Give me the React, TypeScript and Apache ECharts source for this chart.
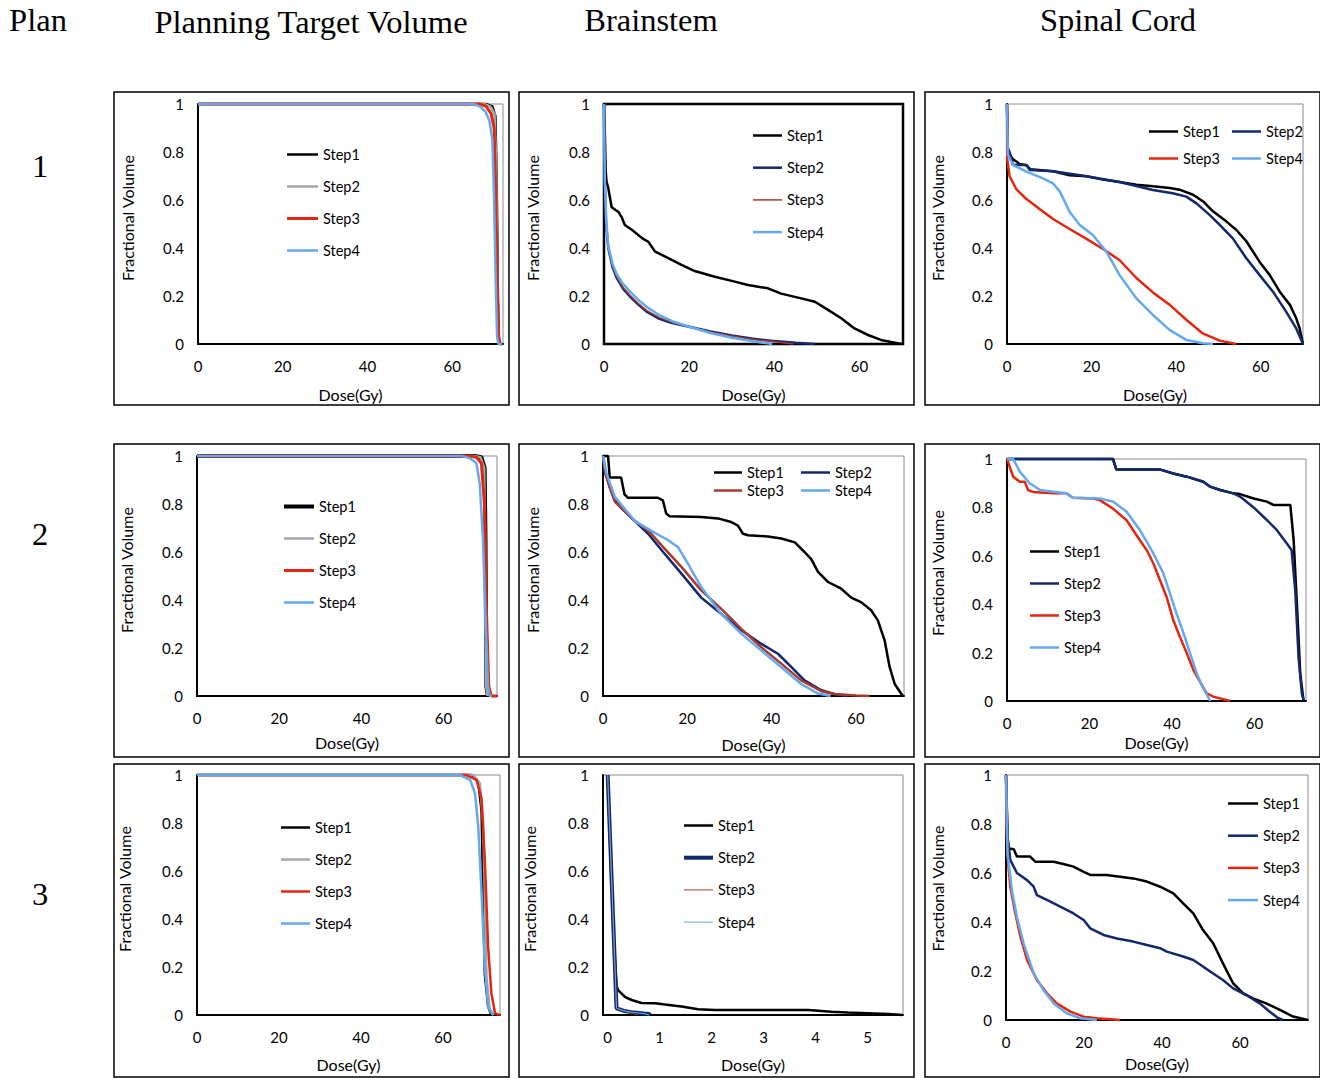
import React, { useEffect, useRef } from "react";
import * as echarts from "echarts";

type Pt = [number, number];

// ---------- labels ----------
const STEPS = ["Step1", "Step2", "Step3", "Step4"];
const COLUMN_TITLES = ["Planning Target Volume", "Brainstem", "Spinal Cord"];
const ROW_LABELS = ["1", "2", "3"];
const PLAN_LABEL = "Plan";
const X_TITLE = "Dose(Gy)";
const Y_TITLE = "Fractional Volume";
const X_TICKS_GY = [0, 20, 40, 60];
const X_TICKS_BS3 = [0, 1, 2, 3, 4, 5];
const Y_TICKS = [0, 0.2, 0.4, 0.6, 0.8, 1];

// ---------- Plan 1 : PTV ----------
const ptv1Step1: Pt[] = [[0, 1], [68, 1], [69.5, 0.99], [70.2, 0.95], [70.5, 0.7], [70.8, 0.2], [71, 0.02], [71.2, 0]];
const ptv1Step2: Pt[] = [[0, 1], [67.5, 1], [69, 0.99], [70, 0.96], [70.4, 0.75], [70.7, 0.2], [71, 0.02], [71.3, 0]];
const ptv1Step3: Pt[] = [[0, 1], [66.5, 1], [68, 0.99], [69.2, 0.96], [69.9, 0.9], [70.3, 0.6], [70.7, 0.2], [71, 0.03], [71.3, 0], [71.8, 0]];
const ptv1Step4: Pt[] = [[0, 1], [65, 1], [66.5, 0.99], [67.8, 0.97], [68.8, 0.93], [69.5, 0.85], [69.9, 0.6], [70.3, 0.25], [70.6, 0.03], [70.9, 0], [71.8, 0]];

// ---------- Plan 1 : Brainstem ----------
const bs1Step1: Pt[] = [[0, 1], [0.2, 0.88], [0.4, 0.72], [0.6, 0.676], [1, 0.65], [1.8, 0.57], [3.4, 0.55], [4.1, 0.53], [4.9, 0.496], [6.6, 0.475], [9, 0.44], [10.4, 0.426], [12, 0.385], [15.2, 0.357], [18.2, 0.33], [21.3, 0.304], [26, 0.28], [30.7, 0.26], [33.8, 0.246], [38.5, 0.232], [41.6, 0.21], [46.3, 0.19], [49.5, 0.176], [52.6, 0.142], [55.7, 0.107], [58.8, 0.065], [62, 0.0375], [65, 0.017], [69.8, 0]];
const bs1Step2: Pt[] = [[0, 1], [0.1, 0.8], [0.2, 0.66], [0.5, 0.5], [1, 0.4], [2, 0.32], [3, 0.275], [4.5, 0.23], [6, 0.2], [8, 0.165], [10, 0.135], [13, 0.105], [16, 0.087], [20, 0.072], [25, 0.052], [30, 0.036], [35, 0.022], [40, 0.012], [45, 0.005], [49.5, 0]];
const bs1Step3: Pt[] = [[0, 1], [0.1, 0.8], [0.2, 0.66], [0.5, 0.5], [1, 0.4], [2, 0.325], [3, 0.28], [4.5, 0.235], [6, 0.205], [8, 0.17], [10, 0.14], [13, 0.11], [16, 0.09], [20, 0.072], [25, 0.05], [30, 0.033], [35, 0.019], [40, 0.009], [44.5, 0]];
const bs1Step4: Pt[] = [[0, 1], [0.1, 0.82], [0.2, 0.68], [0.5, 0.52], [1, 0.41], [2, 0.335], [3, 0.29], [4.5, 0.25], [6, 0.22], [8, 0.185], [10, 0.155], [13, 0.12], [16, 0.095], [20, 0.072], [25, 0.046], [30, 0.026], [35, 0.011], [39.5, 0]];

// ---------- Plan 1 : Spinal Cord ----------
const sc1Step1: Pt[] = [[0, 1], [0.2, 0.815], [0.6, 0.79], [1.4, 0.77], [3, 0.75], [4.6, 0.745], [5.5, 0.728], [10.9, 0.72], [14.8, 0.703], [18.8, 0.699], [22.7, 0.685], [26.6, 0.675], [30.6, 0.664], [34.5, 0.657], [38.5, 0.65], [40.8, 0.643], [44, 0.622], [46.4, 0.594], [48.7, 0.553], [51.9, 0.51], [54.2, 0.476], [56.6, 0.428], [59.7, 0.343], [62.1, 0.288], [64.5, 0.218], [66.9, 0.163], [68.4, 0.107], [69.2, 0.065], [70, 0]];
const sc1Step2: Pt[] = [[0, 1], [0.2, 0.815], [0.6, 0.8], [1.4, 0.746], [4.6, 0.746], [5.4, 0.725], [10.9, 0.72], [18.8, 0.699], [26.6, 0.675], [34.5, 0.642], [39.2, 0.628], [42.4, 0.614], [44.8, 0.586], [47.9, 0.538], [50.3, 0.496], [53.4, 0.44], [56.6, 0.357], [59.7, 0.288], [62.9, 0.218], [66, 0.135], [68.4, 0.065], [70, 0]];
const sc1Step3: Pt[] = [[0, 1], [0.05, 0.77], [0.6, 0.7], [2.2, 0.645], [4.6, 0.604], [7.7, 0.563], [10.9, 0.521], [14.8, 0.479], [18.8, 0.438], [22.7, 0.396], [26.6, 0.35], [30.6, 0.275], [34.5, 0.215], [38.5, 0.163], [42.4, 0.101], [46.3, 0.044], [50.3, 0.014], [54.2, 0]];
const sc1Step4: Pt[] = [[0, 1], [0.2, 0.79], [1.4, 0.746], [4.6, 0.718], [8.5, 0.69], [10.9, 0.669], [12.5, 0.635], [14.8, 0.551], [17.2, 0.496], [20.3, 0.454], [23.5, 0.385], [26.6, 0.288], [30.6, 0.19], [34.5, 0.121], [38.5, 0.058], [42.4, 0.017], [46.3, 0.003], [48.7, 0]];

// ---------- Plan 2 : PTV ----------
const ptv2Step1: Pt[] = [[0, 1], [67.6, 1], [69.2, 0.995], [70, 0.95], [70.2, 0.65], [70.4, 0.04], [70.8, 0]];
const ptv2Step2: Pt[] = [[0, 1], [67.5, 1], [69, 0.995], [69.9, 0.95], [70.1, 0.6], [70.3, 0.05], [70.7, 0]];
const ptv2Step3: Pt[] = [[0, 1], [66.3, 1], [68, 0.995], [69.2, 0.97], [70, 0.79], [70.4, 0.37], [71, 0.04], [71.6, 0], [73, 0]];
const ptv2Step4: Pt[] = [[0, 1], [64.5, 1], [66.5, 0.99], [68, 0.97], [68.8, 0.885], [69.6, 0.65], [70.4, 0.23], [70.8, 0.04], [71.2, 0], [71.8, 0]];

// ---------- Plan 2 : Brainstem ----------
const bs2Step1: Pt[] = [[0, 1], [1.2, 1], [1.6, 0.91], [4.3, 0.91], [5.1, 0.84], [5.9, 0.826], [13, 0.826], [14.2, 0.815], [15, 0.76], [15.8, 0.749], [23.3, 0.746], [27.3, 0.74], [30.4, 0.725], [32, 0.71], [33.2, 0.676], [34.4, 0.67], [39.1, 0.665], [42.3, 0.656], [45.5, 0.64], [47.8, 0.6], [49.4, 0.57], [51, 0.517], [53.4, 0.475], [56.5, 0.447], [58.9, 0.41], [61.3, 0.39], [63.6, 0.357], [65.2, 0.315], [66.8, 0.232], [68, 0.12], [69.2, 0.05], [71.1, 0]];
const bs2Step2: Pt[] = [[0, 1], [0.55, 0.93], [1.6, 0.87], [2.8, 0.815], [5.1, 0.77], [7.5, 0.73], [10.7, 0.676], [14.6, 0.593], [18.6, 0.51], [23.3, 0.41], [28, 0.343], [32.8, 0.274], [37.5, 0.218], [41.5, 0.176], [44.7, 0.12], [47.8, 0.065], [51.8, 0.024], [55, 0.007], [58, 0]];
const bs2Step3: Pt[] = [[0, 1], [0.5, 0.93], [1.6, 0.87], [2.8, 0.81], [5.1, 0.77], [7.5, 0.73], [10.7, 0.69], [14.6, 0.614], [18.6, 0.538], [23.3, 0.44], [28, 0.364], [32.8, 0.28], [37.5, 0.204], [42.3, 0.135], [47, 0.065], [51.8, 0.02], [55, 0.008], [60, 0.002], [63.2, 0]];
const bs2Step4: Pt[] = [[0, 1], [0.8, 0.93], [2.8, 0.83], [7.5, 0.73], [12.3, 0.68], [15.4, 0.65], [17.8, 0.62], [20.2, 0.55], [23.3, 0.454], [28, 0.343], [32.8, 0.26], [37.5, 0.19], [42.3, 0.12], [47, 0.05], [51, 0.01], [54, 0]];

// ---------- Plan 2 : Spinal Cord ----------
const sc2Step1: Pt[] = [[0, 1], [25.7, 1], [26.5, 0.957], [37, 0.957], [40.3, 0.94], [43.6, 0.927], [47.6, 0.906], [49.2, 0.886], [51.7, 0.872], [54.9, 0.858], [56.5, 0.855], [59.8, 0.837], [63, 0.824], [64.6, 0.81], [68.7, 0.81], [69.5, 0.665], [70.3, 0.4], [71.1, 0.114], [71.9, 0]];
const sc2Step2: Pt[] = [[0, 1], [25.7, 1], [26.5, 0.957], [37, 0.957], [40.3, 0.94], [43.6, 0.927], [47.6, 0.906], [49.2, 0.886], [51.7, 0.872], [54.9, 0.858], [56.5, 0.845], [59.8, 0.8], [63, 0.748], [65.4, 0.707], [67.9, 0.65], [69, 0.624], [69.9, 0.455], [70.7, 0.18], [71.5, 0.03], [72, 0]];
const sc2Step3: Pt[] = [[0, 1], [0.6, 0.97], [1.5, 0.927], [3.1, 0.906], [4.3, 0.906], [5.1, 0.872], [6.3, 0.864], [11.2, 0.858], [14.4, 0.858], [16, 0.84], [20.9, 0.837], [22.5, 0.83], [25.7, 0.795], [29, 0.747], [31.4, 0.685], [33.9, 0.623], [35.5, 0.568], [37.1, 0.499], [38.7, 0.43], [40.3, 0.335], [41.9, 0.266], [43.6, 0.197], [45.2, 0.128], [46.8, 0.08], [48.4, 0.032], [50, 0.018], [54.1, 0]];
const sc2Step4: Pt[] = [[0, 1], [1.5, 1], [3.1, 0.948], [5.5, 0.9], [8, 0.872], [11.2, 0.865], [14.4, 0.858], [16, 0.84], [22.5, 0.837], [25.7, 0.824], [29, 0.782], [32.2, 0.707], [35.5, 0.61], [37.9, 0.528], [39.5, 0.445], [41.1, 0.362], [42.8, 0.28], [44.4, 0.197], [46, 0.114], [47.6, 0.052], [49.3, 0]];

// ---------- Plan 3 : PTV ----------
const ptv3Step1: Pt[] = [[0, 1], [67, 1], [68.6, 0.97], [69.4, 0.85], [69.8, 0.5], [70.2, 0.17], [71, 0.035], [71.8, 0]];
const ptv3Step2: Pt[] = [[0, 1], [67.4, 1], [69, 0.965], [69.8, 0.8], [70.2, 0.5], [70.6, 0.16], [71.4, 0.02], [72.3, 0]];
const ptv3Step3: Pt[] = [[0, 1], [65.7, 1], [68.2, 0.98], [69.4, 0.9], [70.2, 0.646], [71, 0.285], [71.8, 0.09], [72.7, 0.007], [73.9, 0]];
const ptv3Step4: Pt[] = [[0, 1], [64.1, 1], [66.6, 0.98], [67.8, 0.924], [68.6, 0.785], [69.4, 0.507], [70.2, 0.2], [71, 0.035], [72.3, 0]];

// ---------- Plan 3 : Brainstem ----------
const bs3Step1: Pt[] = [[0, 1], [0.05, 0.7], [0.12, 0.3], [0.17, 0.12], [0.2, 0.104], [0.33, 0.076], [0.46, 0.0625], [0.65, 0.05], [0.91, 0.049], [1.1, 0.044], [1.42, 0.035], [1.74, 0.024], [2.06, 0.021], [3.35, 0.021], [3.86, 0.021], [4.3, 0.014], [4.62, 0.01], [5, 0.007], [5.4, 0.004], [5.66, 0]];
const bs3Step2: Pt[] = [[0, 1], [0.17, 0.028], [0.3, 0.018], [0.45, 0.012], [0.7, 0.006], [0.8, 0.004], [0.81, 0]];
const bs3Step3: Pt[] = [[0, 1], [0.17, 0.028], [0.3, 0.018], [0.45, 0.008], [0.58, 0]];
const bs3Step4: Pt[] = [[0, 1], [0.17, 0.028], [0.3, 0.018], [0.45, 0.012], [0.7, 0.006], [0.8, 0]];

// ---------- Plan 3 : Spinal Cord ----------
const sc3Step1: Pt[] = [[0, 1], [0.4, 0.735], [0.7, 0.7], [2, 0.697], [2.8, 0.667], [6.2, 0.667], [7.5, 0.646], [12.2, 0.646], [14.7, 0.637], [17.3, 0.626], [19.9, 0.605], [21.6, 0.592], [25.8, 0.592], [29.2, 0.585], [32.6, 0.578], [36.1, 0.565], [39.5, 0.544], [42.9, 0.517], [45.4, 0.476], [48, 0.435], [50.5, 0.367], [53.1, 0.313], [55.6, 0.231], [58.2, 0.15], [60.8, 0.109], [63.3, 0.088], [66.7, 0.068], [70.2, 0.041], [73.6, 0.014], [77.4, 0]];
const sc3Step2: Pt[] = [[0, 1], [0.4, 0.748], [1.1, 0.653], [2.8, 0.6], [5.4, 0.571], [7.1, 0.544], [7.9, 0.51], [10.5, 0.49], [13.9, 0.463], [17.3, 0.435], [19.9, 0.408], [21.6, 0.374], [25, 0.347], [28.4, 0.333], [32.6, 0.32], [36.1, 0.306], [39.5, 0.293], [41.2, 0.279], [45.4, 0.259], [48, 0.245], [50.5, 0.218], [53.1, 0.19], [55.6, 0.163], [58.2, 0.129], [61.6, 0.102], [65, 0.068], [67.6, 0.034], [69.7, 0.008], [71, 0]];
const sc3Step3: Pt[] = [[0, 1], [0.1, 0.79], [0.4, 0.667], [1.1, 0.544], [2.4, 0.435], [3.7, 0.34], [5.4, 0.245], [7.9, 0.163], [10.5, 0.109], [13, 0.068], [16.5, 0.034], [19.9, 0.0136], [23.3, 0.007], [29.2, 0]];
const sc3Step4: Pt[] = [[0, 1], [0.4, 0.68], [1.5, 0.53], [2.8, 0.42], [4.5, 0.313], [7.1, 0.19], [9.6, 0.122], [12.2, 0.068], [15.6, 0.027], [19, 0.007], [23.3, 0]];

// ---------- styles / layout ----------
const BLACK = "#000000";
const GRAY = "#a6a6a6";
const RED = "#e3260f";
const LBLUE = "#64a9ef";
const NAVY = "#12296c";
const BROWN = "#a8392e";
const FONT = "Lato";
const SERIF = "Liberation Serif";
const TICK_SIZE = 15;
const TITLE_SIZE = 16;
const LEGEND_SIZE = 14.5;
const HEAD_SIZE = 32.5;

type LegendCfg = { idx: number[]; left: number; top: number; gap: number; w: number };
type PanelCfg = {
  id: string;
  data: Pt[][];
  xMin: number;
  xMax: number;
  xTicks: number[];
  grid: { left: number; top: number; width: number; height: number };
  colors: string[];
  widths: number[];
  border: { color: string; width: number };
  nameGap: number;
  yTitle: [number, number];
  legends: LegendCfg[];
};

const PANELS: PanelCfg[] = [
  {
    id: "p11", data: [ptv1Step1, ptv1Step2, ptv1Step3, ptv1Step4], xMin: 0, xMax: 72, xTicks: X_TICKS_GY,
    grid: { left: 198, top: 104, width: 305, height: 240 }, colors: [BLACK, GRAY, RED, LBLUE], widths: [2.5, 2.5, 3, 2.5],
    border: { color: "#8c8c8c", width: 1 }, nameGap: 42, yTitle: [127, 218],
    legends: [{ idx: [0, 1, 2, 3], left: 287, top: 147, gap: 17, w: 31 }],
  },
  {
    id: "p12", data: [bs1Step1, bs1Step2, bs1Step3, bs1Step4], xMin: 0, xMax: 70.2, xTicks: X_TICKS_GY,
    grid: { left: 604, top: 104, width: 299, height: 240 }, colors: [BLACK, NAVY, BROWN, LBLUE], widths: [2.5, 2.5, 1.5, 2.5],
    border: { color: "#000000", width: 2.5 }, nameGap: 42.5, yTitle: [532, 218],
    legends: [{ idx: [0, 1, 2, 3], left: 753, top: 128, gap: 17.2, w: 29 }],
  },
  {
    id: "p13", data: [sc1Step1, sc1Step2, sc1Step3, sc1Step4], xMin: 0, xMax: 70, xTicks: X_TICKS_GY,
    grid: { left: 1007, top: 104, width: 296, height: 240 }, colors: [BLACK, NAVY, RED, LBLUE], widths: [2.5, 2.5, 2.5, 2.5],
    border: { color: "#8c8c8c", width: 1 }, nameGap: 42, yTitle: [937, 218],
    legends: [
      { idx: [0, 2], left: 1149, top: 124, gap: 12, w: 29 },
      { idx: [1, 3], left: 1232, top: 124, gap: 12, w: 29 },
    ],
  },
  {
    id: "p21", data: [ptv2Step1, ptv2Step2, ptv2Step3, ptv2Step4], xMin: 0, xMax: 73, xTicks: X_TICKS_GY,
    grid: { left: 197, top: 456, width: 300, height: 240 }, colors: [BLACK, GRAY, RED, LBLUE], widths: [4, 2.5, 3, 2.5],
    border: { color: "#8c8c8c", width: 1 }, nameGap: 38, yTitle: [126, 570],
    legends: [{ idx: [0, 1, 2, 3], left: 284, top: 499, gap: 17, w: 30 }],
  },
  {
    id: "p22", data: [bs2Step1, bs2Step2, bs2Step3, bs2Step4], xMin: 0, xMax: 71.4, xTicks: X_TICKS_GY,
    grid: { left: 603, top: 456, width: 301, height: 240 }, colors: [BLACK, NAVY, BROWN, LBLUE], widths: [2.5, 2.5, 2.5, 2.5],
    border: { color: "#8c8c8c", width: 1 }, nameGap: 40, yTitle: [532, 570],
    legends: [
      { idx: [0, 2], left: 714, top: 465, gap: 3, w: 28 },
      { idx: [1, 3], left: 801, top: 465, gap: 3, w: 29 },
    ],
  },
  {
    id: "p23", data: [sc2Step1, sc2Step2, sc2Step3, sc2Step4], xMin: 0, xMax: 72.5, xTicks: X_TICKS_GY,
    grid: { left: 1007, top: 459, width: 299, height: 242 }, colors: [BLACK, NAVY, RED, LBLUE], widths: [2.5, 2.5, 2.5, 2.5],
    border: { color: "#8c8c8c", width: 1 }, nameGap: 33, yTitle: [937, 573],
    legends: [{ idx: [0, 1, 2, 3], left: 1030, top: 544, gap: 17, w: 29 }],
  },
  {
    id: "p31", data: [ptv3Step1, ptv3Step2, ptv3Step3, ptv3Step4], xMin: 0, xMax: 73.9, xTicks: X_TICKS_GY,
    grid: { left: 197, top: 775, width: 303, height: 240 }, colors: [BLACK, GRAY, RED, LBLUE], widths: [2.5, 2.5, 2.5, 2.5],
    border: { color: "#8c8c8c", width: 1 }, nameGap: 41, yTitle: [124, 889],
    legends: [{ idx: [0, 1, 2, 3], left: 281, top: 820, gap: 17, w: 29 }],
  },
  {
    id: "p32", data: [bs3Step1, bs3Step2, bs3Step3, bs3Step4], xMin: -0.09, xMax: 5.68, xTicks: X_TICKS_BS3,
    grid: { left: 603, top: 775, width: 300, height: 240 }, colors: [BLACK, NAVY, BROWN, LBLUE], widths: [2.5, 4, 1, 1],
    border: { color: "#8c8c8c", width: 1 }, nameGap: 41, yTitle: [529, 889],
    legends: [{ idx: [0, 1, 2, 3], left: 684, top: 818, gap: 17.2, w: 29 }],
  },
  {
    id: "p33", data: [sc3Step1, sc3Step2, sc3Step3, sc3Step4], xMin: 0, xMax: 77.4, xTicks: X_TICKS_GY,
    grid: { left: 1006, top: 775, width: 302, height: 245 }, colors: [BLACK, NAVY, RED, LBLUE], widths: [2.5, 2.5, 2.5, 2.5],
    border: { color: "#8c8c8c", width: 1 }, nameGap: 35, yTitle: [937, 888.5],
    legends: [{ idx: [0, 1, 2, 3], left: 1228, top: 796, gap: 17.2, w: 30 }],
  },
];

const BOX_X = [114, 519, 925];
const BOX_Y = [92, 444, 764];
const BOX_W = 395;
const BOX_H = 313;
const COL_TITLE_POS: [number, number][] = [[311, 22], [651, 20], [1118, 20]];
const ROW_LABEL_POS: [number, number][] = [[40, 166], [40, 534], [40, 894]];
const PLAN_POS: [number, number] = [38, 20];

const seriesName = (pid: string, k: number) => `${pid}|${STEPS[k]}`;
const iconPath = (w: number, len: number) => `path://M0,0h${len}v${w}h-${len}z`;

function buildOption() {
  const grid = PANELS.map((p) => ({
    left: p.grid.left,
    top: p.grid.top,
    width: p.grid.width,
    height: p.grid.height,
    show: true,
    borderColor: p.border.color,
    borderWidth: p.border.width,
    backgroundColor: "transparent",
    containLabel: false,
    outerBoundsMode: "none",
  }));

  const xAxis = PANELS.map((p, i) => ({
    gridIndex: i,
    type: "value",
    min: p.xMin,
    max: p.xMax,
    axisLine: { show: true, onZero: false, lineStyle: { color: "#000", width: 2 } },
    axisTick: { show: false },
    splitLine: { show: false },
    axisLabel: {
      show: true,
      customValues: p.xTicks,
      margin: 14,
      color: "#000",
      fontFamily: FONT,
      fontSize: TICK_SIZE,
    },
    name: X_TITLE,
    nameLocation: "middle",
    nameGap: p.nameGap,
    nameTextStyle: { color: "#000", fontFamily: FONT, fontSize: TITLE_SIZE },
  }));

  const yAxis = PANELS.map((p, i) => ({
    gridIndex: i,
    type: "value",
    min: 0,
    max: 1,
    interval: 0.2,
    axisLine: { show: true, onZero: false, lineStyle: { color: "#000", width: 2 } },
    axisTick: { show: false },
    splitLine: { show: false },
    axisLabel: {
      show: true,
      customValues: Y_TICKS,
      margin: 14,
      color: "#000",
      fontFamily: FONT,
      fontSize: TICK_SIZE,
    },
  }));

  const series: any[] = [];
  PANELS.forEach((p, i) => {
    p.data.forEach((d, k) => {
      series.push({
        type: "line",
        name: seriesName(p.id, k),
        xAxisIndex: i,
        yAxisIndex: i,
        data: d,
        symbol: "none",
        showSymbol: false,
        clip: false,
        color: p.colors[k],
        itemStyle: { color: p.colors[k] },
        lineStyle: { color: p.colors[k], width: p.widths[k] },
        emphasis: { disabled: true },
        z: 2 + k,
      });
    });
  });

  const legend: any[] = [];
  PANELS.forEach((p) => {
    p.legends.forEach((lg) => {
      legend.push({
        show: true,
        orient: "vertical",
        left: lg.left,
        top: lg.top,
        padding: 0,
        itemGap: lg.gap,
        itemWidth: lg.w,
        itemHeight: 14,
        selectedMode: false,
        symbolKeepAspect: true,
        itemStyle: { borderWidth: 0 },
        textStyle: { color: "#000", fontFamily: FONT, fontSize: LEGEND_SIZE },
        formatter: (n: string) => n.split("|")[1],
        data: lg.idx.map((k) => ({
          name: seriesName(p.id, k),
          icon: iconPath(p.widths[k], lg.w),
          itemStyle: { color: p.colors[k], borderWidth: 0 },
        })),
      });
    });
  });

  const graphic: any[] = [];
  BOX_Y.forEach((by) => {
    BOX_X.forEach((bx) => {
      graphic.push({
        type: "rect",
        shape: { x: bx, y: by, width: BOX_W, height: BOX_H },
        style: { fill: "none", stroke: "#000", lineWidth: 1.5 },
        silent: true,
        z: 0,
      });
    });
  });
  const serifText = (text: string, x: number, y: number) => ({
    type: "text",
    x,
    y,
    silent: true,
    style: {
      text,
      fill: "#000",
      fontFamily: SERIF,
      fontSize: HEAD_SIZE,
      align: "center",
      verticalAlign: "middle",
      textAlign: "center",
      textVerticalAlign: "middle",
    },
  });
  graphic.push(serifText(PLAN_LABEL, PLAN_POS[0], PLAN_POS[1]));
  COLUMN_TITLES.forEach((t, i) => graphic.push(serifText(t, COL_TITLE_POS[i][0], COL_TITLE_POS[i][1])));
  ROW_LABELS.forEach((t, i) => graphic.push(serifText(t, ROW_LABEL_POS[i][0], ROW_LABEL_POS[i][1])));
  PANELS.forEach((p) => {
    graphic.push({
      type: "text",
      x: p.yTitle[0],
      y: p.yTitle[1],
      rotation: Math.PI / 2,
      silent: true,
      style: {
        text: Y_TITLE,
        fill: "#000",
        fontFamily: FONT,
        fontSize: TITLE_SIZE,
        align: "center",
        verticalAlign: "middle",
        textAlign: "center",
        textVerticalAlign: "middle",
      },
    });
  });

  return {
    animation: false,
    backgroundColor: "#ffffff",
    textStyle: { fontFamily: FONT },
    tooltip: { show: false },
    grid,
    xAxis,
    yAxis,
    legend,
    series,
    graphic,
  };
}

export default function App() {
  const ref = useRef<HTMLDivElement>(null);
  useEffect(() => {
    if (!ref.current) return;
    const chart = echarts.init(ref.current, undefined, { renderer: "svg" });
    chart.setOption(buildOption() as any);
    return () => chart.dispose();
  }, []);
  return (
    <div
      ref={ref}
      style={{ position: "absolute", left: 0, top: 0, width: 1320, height: 1078, background: "#fff" }}
    />
  );
}
